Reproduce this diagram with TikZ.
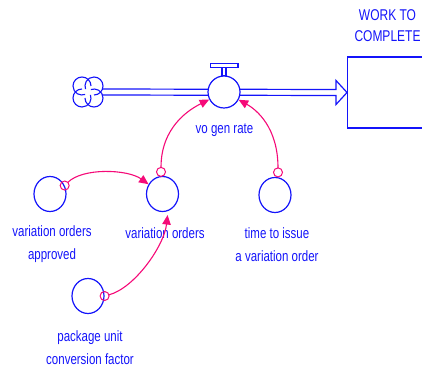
\documentclass[tikz,border=0pt]{standalone}
\usepackage{fontspec}
\setmainfont{Liberation Sans}
\usetikzlibrary{arrows.meta,calc,shapes.geometric}
\definecolor{vblue}{RGB}{20,20,250}
\definecolor{vpink}{RGB}{245,10,120}
\begin{document}
\begin{tikzpicture}[x=1pt,y=1pt,
  lbl/.style={text=vblue, font=\fontsize{11.5}{17.7}\selectfont, align=center,
              inner sep=0pt, yscale=1.3},
  biglbl/.style={lbl, font=\fontsize{12}{16.2}\selectfont},
  aux/.style={draw=vblue, line width=1.2pt, ellipse, minimum width=32pt,
              minimum height=35pt, inner sep=0pt},
  valvebody/.style={draw=vblue, fill=white, line width=1.2pt, circle,
              minimum size=32pt, inner sep=0pt},
  stockbox/.style={draw=vblue, line width=1.2pt, rectangle, minimum width=93pt,
              minimum height=71pt, inner sep=0pt},
  pipe/.style={draw=vblue, line width=1.2pt, line join=miter},
  conn/.style={draw=vpink, line width=1.1pt, -{Triangle[length=9.5pt,width=8.5pt]}},
  tailring/.style={draw=vpink, line width=1pt}]

\path[use as bounding box] (0,0) rectangle (422,372);
\clip (0,0) rectangle (422,372);

% stock, source cloud and valve
\node[stockbox, anchor=west] (stock) at (347,279.5) {};
\node[biglbl] (stocklbl) at (387.5,346.5) {WORK TO\\COMPLETE};

\node[circle, minimum size=30pt, inner sep=0pt] (cloud) at (88,280) {};
\begin{scope}[vblue, line width=1.1pt]
  \draw ($(cloud.center)+(3,6)$)   arc[start angle=0,   end angle=290, radius=9];
  \draw ($(cloud.center)+(-6,3)$)  arc[start angle=90,  end angle=380, radius=9];
  \draw ($(cloud.center)+(-3,-6)$) arc[start angle=180, end angle=470, radius=9];
  \draw ($(cloud.center)+(6,-3)$)  arc[start angle=270, end angle=560, radius=9];
\end{scope}

% double-lined flow pipe ending in a hollow arrow head
\draw[pipe] ($(cloud.east)+(-1,3)$) -- ($(stock.west)+(-11,3)$) -- ++(0,9)
  -- (stock.west) -- ($(stock.west)+(-11,-12)$) -- ++(0,9)
  -- ($(cloud.east)+(-1,-3)$);

\node[valvebody] (valve) at (224,280) {};
\draw[vblue, line width=1.1pt] ($(valve.north)+(-2,0)$) rectangle ($(valve.north)+(2,8)$);
\draw[vblue, line width=1.2pt] ($(valve.north)+(-13.5,8)$) rectangle ($(valve.north)+(14,12)$);
\node[lbl] (ratelbl) at (224.5,242) {vo gen rate};

% auxiliaries
\node[aux] (VOA) at (50,178) {};
\node[lbl] (VOAlbl) at (52,127.5) {variation orders\\approved};
\node[aux] (VO) at (162.5,178) {};
\node[lbl] (VOlbl) at (165,139) {variation orders};
\node[aux] (TTI) at (275,177) {};
\node[lbl] (TTIlbl) at (277,127.5) {time to issue\\a variation order};
\node[aux] (PUCF) at (88,76) {};
\node[lbl] (PUCFlbl) at (90,24.5) {package unit\\conversion factor};

% connector tails
\coordinate (t1) at ($(VO.north)+(-1.5,4)$);
\coordinate (t2) at ($(TTI.north)+(3,4.5)$);
\coordinate (t3) at (VOA.30);
\coordinate (t4) at (PUCF.east);
\foreach \t in {t1,t2,t3,t4} \draw[tailring] (\t) circle (4.5);

% connectors
\draw[conn, shorten <=4.5pt] (t1) .. controls +(0,45) and +(-20,-10) .. (valve.207);
\draw[conn, shorten <=4.5pt] (t2) .. controls +(0,45) and +(18,-10) .. (valve.-28);
\draw[conn, shorten <=4.5pt] (t3) .. controls +(18,18) and +(-21,15) .. (VO.145);
\draw[conn, shorten <=4.5pt, shorten >=4pt] (t4) .. controls +(30,8) and +(-4,-35) .. (VO.-72);
\end{tikzpicture}
\end{document}
